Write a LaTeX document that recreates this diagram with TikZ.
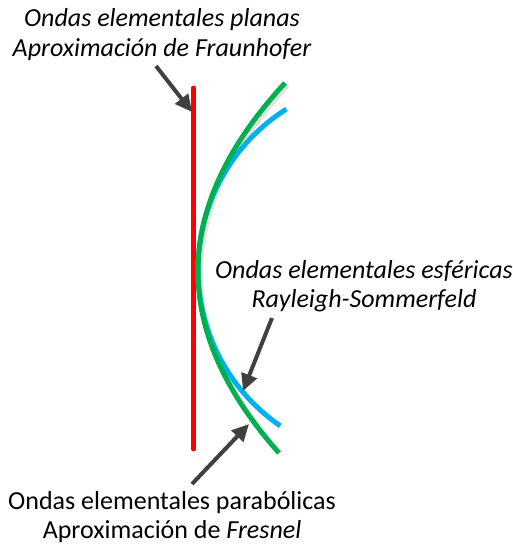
\documentclass[tikz,border=0pt]{standalone}
\usepackage{fontspec}
\setmainfont{Carlito}
\usetikzlibrary{arrows.meta}
\definecolor{wred}{RGB}{255,0,0}
\definecolor{wgreen}{RGB}{0,176,80}
\definecolor{wblue}{RGB}{0,176,240}
\definecolor{warrow}{RGB}{64,64,64}
\definecolor{wshadow}{RGB}{225,225,225}
\tikzset{
  lbl/.style={align=center,inner sep=0pt,font=\fontsize{26}{29}\selectfont},
  wave/.style={line width=5pt},
  pointer/.style={draw=warrow,line width=4pt,-{Triangle[length=17pt,width=16pt]}}
}
\begin{document}
\begin{tikzpicture}[x=1pt,y=-1pt]
\useasboundingbox (0,0) rectangle (513,546);
% red plane
\coordinate (rtop) at (193.5,88);
\coordinate (rbot) at (193.5,449);
\draw[wave,wred,line cap=round] (rtop) -- (rbot);
% shadow of green
\draw[wave,wshadow] plot[variable=\t,domain=83:420,samples=120] ({200.5+0.2455*((\t-271.3)/10)^2},{\t+2.5});
% blue sphere
\draw[wave,wblue] plot[variable=\t,domain=237.7:124.5,samples=120] ({387.75+189.75*cos(\t)},{269.5+189.75*sin(\t)});
% green parabola
\draw[wave,wgreen] plot[variable=\t,domain=83:453,samples=120] ({198+0.2455*((\t-271.3)/10)^2},{\t});
% labels
\node[lbl,font=\fontsize{26}{30}\selectfont\itshape] (plana) at (162,35) {Ondas elementales planas\\Aproximación de Fraunhofer};
\node[lbl,font=\fontsize{26}{29}\selectfont\itshape] (esf) at (364,286) {Ondas elementales esféricas\\Rayleigh-Sommerfeld};
\node[lbl] (parab) at (172,517) {Ondas elementales parabólicas\\Aproximación de \textit{Fresnel}};
% arrows
\coordinate (a1s) at (156,66);
\coordinate (a1e) at (192,112);
\coordinate (a2s) at (272,318);
\coordinate (a2e) at (243,391);
\coordinate (a3s) at (192,484);
\coordinate (a3e) at (249,424);
\draw[pointer] (a1s) -- (a1e);
\draw[pointer] (a2s) -- (a2e);
\draw[pointer] (a3s) -- (a3e);
\end{tikzpicture}
\end{document}
